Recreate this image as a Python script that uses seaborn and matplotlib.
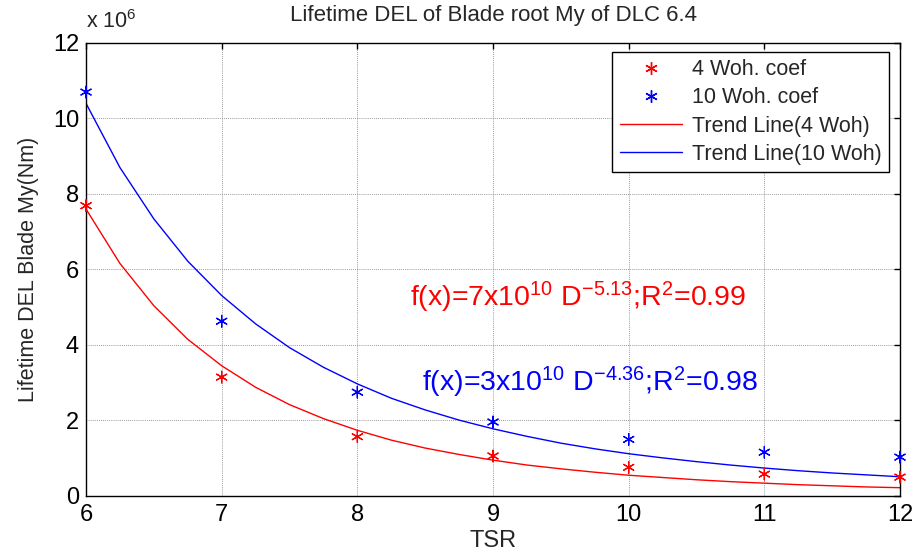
import matplotlib
matplotlib.use("Agg")
import matplotlib.pyplot as plt
import seaborn as sns
import pandas as pd
from matplotlib.lines import Line2D

# ---- data (values in units of 1e6 Nm) ----
tsr = [6, 7, 8, 9, 10, 11, 12]
del_4woh = [7.69, 3.15, 1.57, 1.06, 0.76, 0.58, 0.50]
del_10woh = [10.70, 4.63, 2.75, 1.96, 1.50, 1.16, 1.03]

trend_x = [6, 6.25, 6.5, 6.75, 7, 7.25, 7.5, 7.75, 8, 8.25, 8.5, 8.75, 9,
           9.25, 9.5, 9.75, 10, 10.25, 10.5, 10.75, 11, 11.25, 11.5, 11.75, 12]
trend_4woh = [7.60, 6.16, 5.04, 4.15, 3.45, 2.88, 2.42, 2.05, 1.74, 1.48, 1.27,
              1.10, 0.95, 0.82, 0.72, 0.63, 0.55, 0.49, 0.43, 0.38, 0.34, 0.30,
              0.27, 0.24, 0.22]
trend_10woh = [10.40, 8.70, 7.34, 6.22, 5.31, 4.56, 3.93, 3.41, 2.97, 2.59, 2.28,
               2.01, 1.78, 1.58, 1.40, 1.25, 1.12, 1.01, 0.91, 0.82, 0.74, 0.67,
               0.61, 0.56, 0.51]

series_labels = ["4 Woh. coef", "10 Woh. coef"]
trend_labels = ["Trend Line(4 Woh)", "Trend Line(10 Woh)"]
colors = ["#ff0000", "#0000ff"]

pts = pd.DataFrame({
    "TSR": tsr * 2,
    "DEL": del_4woh + del_10woh,
    "series": [series_labels[0]] * len(tsr) + [series_labels[1]] * len(tsr),
})
trend = pd.DataFrame({
    "TSR": trend_x * 2,
    "DEL": trend_4woh + trend_10woh,
    "series": [trend_labels[0]] * len(trend_x) + [trend_labels[1]] * len(trend_x),
})

sns.set_style("white")
plt.rcParams["font.family"] = ["Liberation Sans", "DejaVu Sans"]
plt.rcParams["mathtext.default"] = "regular"
narrow = ["Liberation Sans Narrow", "Liberation Sans", "DejaVu Sans"]

fig = plt.figure(figsize=(9.21, 5.54), dpi=100)
ax = fig.add_axes([0.0934, 0.1047, 0.8838, 0.8177])

asterisk = (6, 2, 0)
sns.lineplot(data=trend, x="TSR", y="DEL", hue="series",
             palette=dict(zip(trend_labels, colors)), ax=ax,
             linewidth=1.0, legend=False, zorder=2)
sns.scatterplot(data=pts, x="TSR", y="DEL", hue="series",
                palette=dict(zip(series_labels, colors)), ax=ax,
                marker=asterisk, s=70, linewidth=0.9, legend=False, zorder=3,
                clip_on=False)

ax.set_xlim(6, 12)
ax.set_ylim(0, 12)
ax.set_xticks(range(6, 13))
ax.set_yticks(range(0, 13, 2))
ax.grid(True, color="#777777", linestyle=(0, (1, 1.5)), linewidth=0.6)
for s in ax.spines.values():
    s.set_color("black")
    s.set_linewidth(1.0)
ax.tick_params(direction="in", length=4, width=1, labelsize=17, top=True,
               right=True, colors="black")
ax.tick_params(axis="y", pad=5)
ax.tick_params(axis="x", pad=6)
for lab in ax.get_xticklabels() + ax.get_yticklabels():
    lab.set_family(narrow)

ax.set_xlabel("TSR", fontsize=17, labelpad=3, family=narrow)
ax.set_ylabel("Lifetime DEL Blade My(Nm)", fontsize=15.5, labelpad=10)
ax.set_title("Lifetime DEL of Blade root My of DLC 6.4", fontsize=16, pad=16)

ax.text(0.0, 1.022, r"x 10$^{6}$", transform=ax.transAxes, fontsize=15.5,
        ha="left", va="bottom")

ax.text(8.39, 5.25, r"f(x)=7x10$^{10}$ D$^{-5.13}$;R$^{2}$=0.99",
        color=colors[0], fontsize=20.5, ha="left", va="center")
ax.text(8.48, 3.0, r"f(x)=3x10$^{10}$ D$^{-4.36}$;R$^{2}$=0.98",
        color=colors[1], fontsize=20.5, ha="left", va="center")

handles = [
    Line2D([], [], color=colors[0], marker=asterisk, linestyle="none", markersize=9),
    Line2D([], [], color=colors[1], marker=asterisk, linestyle="none", markersize=9),
    Line2D([], [], color=colors[0], linewidth=1.0),
    Line2D([], [], color=colors[1], linewidth=1.0),
]
leg = ax.legend(handles, series_labels + trend_labels, loc="upper right",
                bbox_to_anchor=(0.9865, 0.9805), fontsize=15.5, frameon=True,
                fancybox=False, edgecolor="black", framealpha=1,
                handlelength=2.9, labelspacing=0.33, borderpad=0.35,
                handletextpad=0.45, borderaxespad=0.0)
leg.get_frame().set_linewidth(1.0)

fig.savefig("out.png", dpi=100)
